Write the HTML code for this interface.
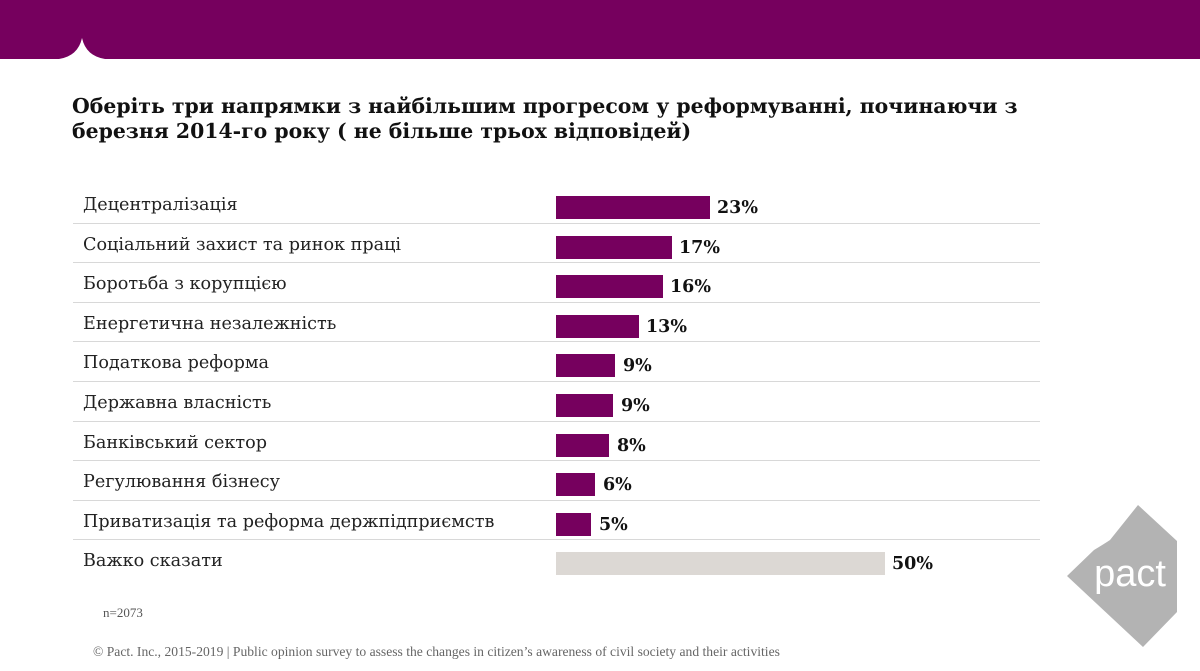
<!DOCTYPE html>
<html><head><meta charset="utf-8"><style>
body{margin:0;width:1200px;height:671px;background:#fff;position:relative;overflow:hidden;font-family:"DejaVu Serif","Liberation Serif",serif;}
.t{position:absolute;left:72px;top:94px;font-size:20.4px;font-weight:bold;line-height:25px;color:#111;white-space:nowrap;}
.row{position:absolute;left:73px;width:967px;height:39.6px;border-bottom:1px solid #d8d8d8;}
.lab{position:absolute;left:10px;top:12px;font-size:17.6px;color:#222;white-space:nowrap;}
.bar{position:absolute;left:483px;top:13px;height:23px;background:#76005e;}
.pct{position:absolute;top:15px;font-size:17.5px;font-weight:bold;color:#111;}
</style></head><body>
<svg width="1200" height="60" style="position:absolute;left:0;top:0">
<path d="M0 0H1200V59H105Q86 56 82 38Q78 56 59 59H0Z" fill="#76005e"/>
</svg>
<div class="t">Оберіть три напрямки з найбільшим прогресом у реформуванні, починаючи з<br>березня 2014-го року ( не більше трьох відповідей)</div>
<div class="row" style="top:183px"><div class="lab">Децентралізація</div><div class="bar" style="width:154px"></div><div class="pct" style="left:644px">23%</div></div>
<div class="row" style="top:222.6px"><div class="lab">Соціальний захист та ринок праці</div><div class="bar" style="width:116px"></div><div class="pct" style="left:606px">17%</div></div>
<div class="row" style="top:262.2px"><div class="lab">Боротьба з корупцією</div><div class="bar" style="width:107px"></div><div class="pct" style="left:597px">16%</div></div>
<div class="row" style="top:301.8px"><div class="lab">Енергетична незалежність</div><div class="bar" style="width:83px"></div><div class="pct" style="left:573px">13%</div></div>
<div class="row" style="top:341.4px"><div class="lab">Податкова реформа</div><div class="bar" style="width:59px"></div><div class="pct" style="left:550px">9%</div></div>
<div class="row" style="top:381px"><div class="lab">Державна власність</div><div class="bar" style="width:57px"></div><div class="pct" style="left:548px">9%</div></div>
<div class="row" style="top:420.6px"><div class="lab">Банківський сектор</div><div class="bar" style="width:53px"></div><div class="pct" style="left:544px">8%</div></div>
<div class="row" style="top:460.2px"><div class="lab">Регулювання бізнесу</div><div class="bar" style="width:39px"></div><div class="pct" style="left:530px">6%</div></div>
<div class="row" style="top:499.8px"><div class="lab">Приватизація та реформа держпідприємств</div><div class="bar" style="width:35px"></div><div class="pct" style="left:526px">5%</div></div>
<div class="row" style="top:539.4px;border:none"><div class="lab">Важко сказати</div><div class="bar" style="width:329px;background:#dcd8d4"></div><div class="pct" style="left:819px">50%</div></div>
<div style="position:absolute;left:103px;top:605px;font-size:13px;color:#555;font-family:'Liberation Serif',serif">n=2073</div>
<div style="position:absolute;left:93px;top:644px;font-size:13.6px;color:#666;font-family:'Liberation Serif',serif;white-space:nowrap">© Pact. Inc., 2015-2019 | Public opinion survey to assess the changes in citizen’s awareness of civil society and their activities</div>
<svg width="1200" height="671" style="position:absolute;left:0;top:0">
<path d="M1138 505L1177 541V612L1143 647L1067 576L1094 550Q1104 544 1110 540Z" fill="#b3b3b3"/>
<text x="1130" y="586" text-anchor="middle" font-family="Liberation Sans, sans-serif" font-size="38" fill="#fff">pact</text>
</svg>
</body></html>
